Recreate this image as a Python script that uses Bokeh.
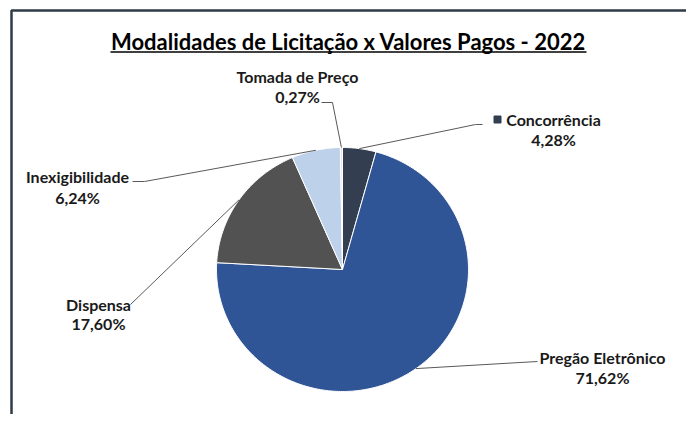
import numpy as np
from bokeh.plotting import figure
from bokeh.models import Range1d
from bokeh.core.properties import value
from bokeh.embed import file_html
from bokeh.resources import INLINE

# ---- data ----
title = "Modalidades de Licitação x Valores Pagos - 2022"
categories = ["Concorrência", "Pregão Eletrônico", "Dispensa", "Inexigibilidade", "Tomada de Preço"]
shares = [4.28, 71.62, 17.60, 6.24, 0.27]
colors = ["#333F50", "#2F5597", "#525252", "#BDD1EA", "#E4E4E4"]

# ---- layout (page pixel coordinates) ----
CX, CY, RX, RY = 342, 269, 126, 122
FONT = "Lato"
label_pos = {  # (center x, line1 y, line2 y)
    "Concorrência": (553, 119, 139),
    "Pregão Eletrônico": (602, 357, 377),
    "Dispensa": (98, 304, 323),
    "Inexigibilidade": (77, 176, 197),
    "Tomada de Preço": (297, 76, 96),
}
leader_from = {  # label-side points of leader lines
    "Concorrência": [(482, 124), (475, 124)],
    "Pregão Eletrônico": [(537, 361)],
    "Dispensa": [(130, 304)],
    "Inexigibilidade": [(132, 181), (144, 181)],
    "Tomada de Preço": [(321, 102), (332, 102)],
}

W, H = 686, 414
p = figure(width=W, height=H, output_backend="svg", toolbar_location=None,
           x_range=Range1d(0, W), y_range=Range1d(0, H), min_border=0,
           background_fill_color="white", border_fill_color="white")
p.axis.visible = False
p.grid.visible = False
p.outline_line_color = None

def Y(py):
    return H - py

# border of chart area
p.line([11, 11, 700], [Y(430), Y(10), Y(10)], line_color="#2F3B47", line_width=2.5)

# title + underline
p.text([348], [Y(41)], text=[title], text_font=value(FONT), text_font_style="bold",
       text_font_size="22px", text_align="center", text_baseline="middle", text_color="black")
p.line([110, 586], [Y(51.5), Y(51.5)], line_color="black", line_width=1.5)

# pie slices
total = sum(shares)
fr = np.cumsum([0] + shares) / total
xs, ys, mids = [], [], []
for i in range(len(shares)):
    t = np.linspace(fr[i], fr[i + 1], max(4, int(shares[i] * 4))) * 2 * np.pi
    xs.append([CX] + list(CX + RX * np.sin(t)) + [CX])
    ys.append([Y(CY)] + list(Y(CY) + RY * np.cos(t)) + [Y(CY)])
    mids.append((fr[i] + fr[i + 1]) * np.pi)
p.patches(xs, ys, fill_color=colors, line_color="white", line_width=1)

# leader lines and labels
for cat, s, m in zip(categories, shares, mids):
    ex, ey = CX + RX * np.sin(m), Y(CY) + RY * np.cos(m)
    pts = leader_from[cat]
    lx = [q[0] for q in pts] + [ex]
    ly = [Y(q[1]) for q in pts] + [ey]
    p.line(lx, ly, line_color="#595959", line_width=1)
    cx, y1, y2 = label_pos[cat]
    pct = f"{s:.2f}%".replace(".", ",")
    p.text([cx, cx], [Y(y1), Y(y2)], text=[cat, pct], text_font=value(FONT),
           text_font_style="bold", text_font_size="16px", text_align="center",
           text_baseline="middle", text_color="#1A1A1A")

# legend key for Concorrência
p.scatter([497], [Y(119)], marker="square", size=7, fill_color=colors[0], line_color=colors[0])

open("out.html", "w").write(file_html(p, INLINE))
